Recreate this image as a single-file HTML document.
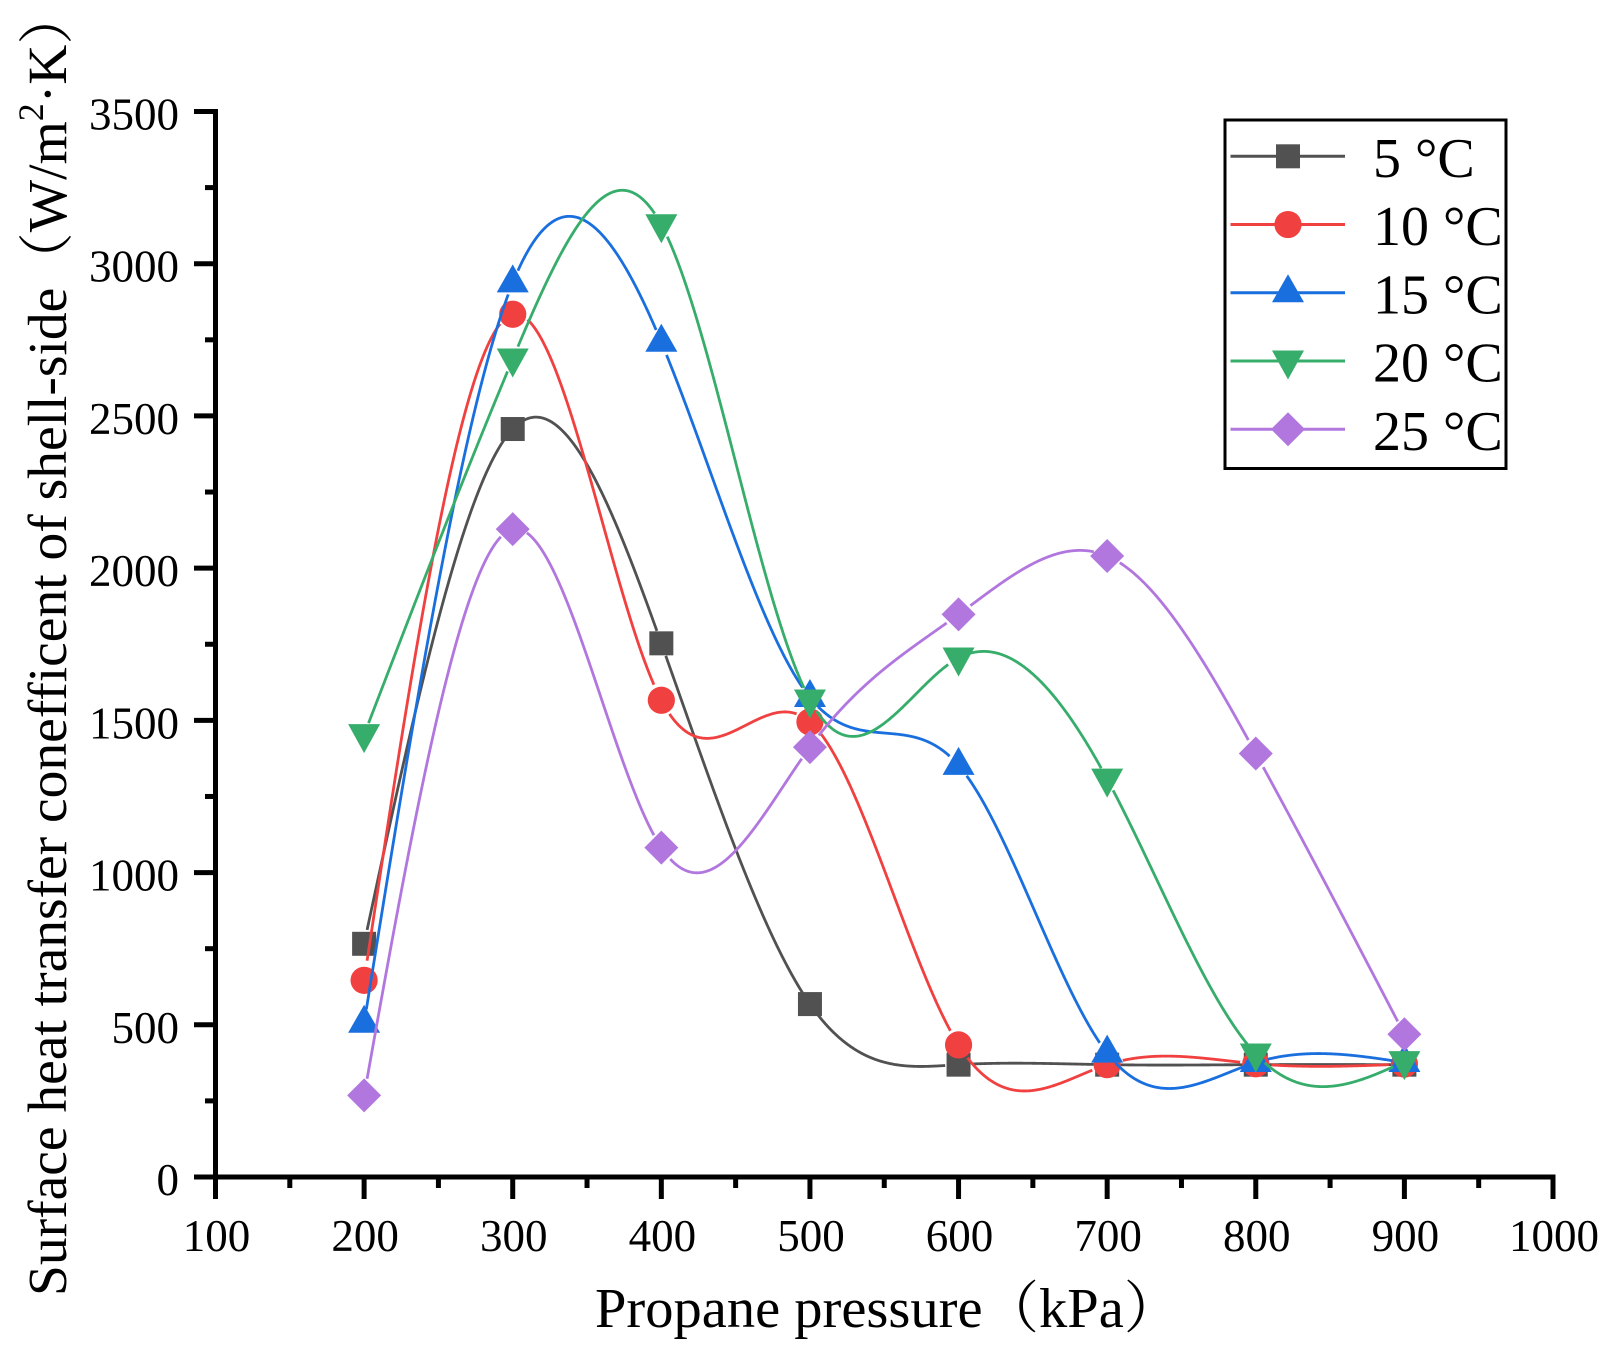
<!DOCTYPE html>
<html lang="en">
<head>
<meta charset="utf-8">
<title>Surface heat transfer coefficient vs propane pressure</title>
<style>
html,body{margin:0;padding:0;background:#fff;width:1614px;height:1352px;overflow:hidden}
svg{display:block}
text{font-family:"Liberation Serif","Noto Serif CJK SC",serif;fill:#000}
</style>
</head>
<body>
<svg id="chart" xmlns="http://www.w3.org/2000/svg" width="1614" height="1352" viewBox="0 0 1614 1352">
<rect width="1614" height="1352" fill="#fff"/>
<g id="axes"></g>
<g id="series"></g>
<text x="595" y="1327" font-size="56.5">Propane pressure（kPa）</text>
<text transform="translate(66,1296) rotate(-90)" font-size="55.5">Surface heat transfer conefficent of shell-side（W/m<tspan font-size="36" dy="-23">2</tspan><tspan dy="23">·K）</tspan></text>
<g id="legend">
<rect x="1225" y="120" width="281" height="348.5" fill="#fff" stroke="#000" stroke-width="3"/>
</g>
</svg>
<script>
const pressures = [200, 300, 400, 500, 600, 700, 800, 900];
const values5 = [766, 2457, 1753, 568, 369, 369, 369, 369];
const values10 = [646, 2834, 1566, 1495, 434, 369, 372, 371];
const values15 = [505, 2937, 2742, 1575, 1352, 407, 376, 376];
const values20 = [1453, 2687, 3128, 1567, 1705, 1307, 404, 379];
const values25 = [268, 2128, 1082, 1412, 1848, 2040, 1391, 469];
const seriesLabels = ['5 °C', '10 °C', '15 °C', '20 °C', '25 °C'];
const xTickLabels = [100, 200, 300, 400, 500, 600, 700, 800, 900, 1000];
const yTickLabels = [0, 500, 1000, 1500, 2000, 2500, 3000, 3500];
const xMinorTicks = [150, 250, 350, 450, 550, 650, 750, 850, 950];
const yMinorTicks = [250, 750, 1250, 1750, 2250, 2750, 3250];

const NS = 'http://www.w3.org/2000/svg';
const seriesColors = ['#515151', '#F14040', '#1A6FDF', '#37AD6B', '#B177DE'];
const seriesKeys = ['5c', '10c', '15c', '20c', '25c'];
const seriesShapes = ['square', 'circle', 'triangle', 'inverted', 'diamond'];
const seriesGaps = [13, 15.5, 12, 12, 14];
const seriesValues = [values5, values10, values15, values20, values25];

function xScale(v) { return 215.5 + (v - 100) * (1553 - 215.5) / 900; }
function yScale(v) { return 1177 - v * (1177 - 111.5) / 3500; }

function make(tag, attrs, parent) {
  const el = document.createElementNS(NS, tag);
  for (const k in attrs) el.setAttribute(k, attrs[k]);
  parent.appendChild(el);
  return el;
}

/* natural cubic spline through the data */
function spline(xs, ys) {
  const n = xs.length, a = new Array(n).fill(0), b = new Array(n).fill(0), c = new Array(n).fill(0), r = new Array(n).fill(0), m = new Array(n).fill(0);
  b[0] = 1; b[n - 1] = 1;
  for (let i = 1; i < n - 1; i++) {
    const h0 = xs[i] - xs[i - 1], h1 = xs[i + 1] - xs[i];
    a[i] = h0; b[i] = 2 * (h0 + h1); c[i] = h1;
    r[i] = 6 * ((ys[i + 1] - ys[i]) / h1 - (ys[i] - ys[i - 1]) / h0);
  }
  for (let i = 1; i < n; i++) {
    const w = a[i] / b[i - 1];
    b[i] -= w * c[i - 1];
    r[i] -= w * r[i - 1];
  }
  m[n - 1] = r[n - 1] / b[n - 1];
  for (let i = n - 2; i >= 0; i--) m[i] = (r[i] - c[i] * m[i + 1]) / b[i];
  return function (x) {
    let i = Math.min(n - 2, Math.max(0, xs.findIndex(function (q) { return q > x; }) - 1));
    if (x >= xs[n - 1]) i = n - 2;
    const h = xs[i + 1] - xs[i], A = (xs[i + 1] - x) / h, B = (x - xs[i]) / h;
    return A * ys[i] + B * ys[i + 1] + ((A * A * A - A) * m[i] + (B * B * B - B) * m[i + 1]) * h * h / 6;
  };
}

function markerShape(shape, cx, cy, color, parent) {
  if (shape === 'square') return make('rect', { x: cx - 12, y: cy - 12, width: 24, height: 24, fill: color }, parent);
  if (shape === 'circle') return make('circle', { cx: cx, cy: cy, r: 13.6, fill: color }, parent);
  if (shape === 'triangle') return make('polygon', { points: [cx, cy - 18.5, cx + 16, cy + 9.5, cx - 16, cy + 9.5].join(','), fill: color }, parent);
  if (shape === 'inverted') return make('polygon', { points: [cx, cy + 18.5, cx + 16, cy - 10.5, cx - 16, cy - 10.5].join(','), fill: color }, parent);
  return make('polygon', { points: [cx, cy - 17, cx + 17, cy, cx, cy + 17, cx - 17, cy].join(','), fill: color }, parent);
}

const axes = document.getElementById('axes');
const seriesGroup = document.getElementById('series');
const legend = document.getElementById('legend');

const yAxisLine = make('line', { x1: 215.5, x2: 215.5, y1: 109, y2: 1199, stroke: '#000', 'stroke-width': 5 }, axes);


const xAxisLine = make('line', { x1: 194, x2: 1555.5, y1: 1177, y2: 1177, stroke: '#000', 'stroke-width': 5 }, axes);



xTickLabels.forEach(function (v) {
  const tick = make('line', { x1: xScale(v), x2: xScale(v), y1: 1177, y2: 1199, stroke: '#000', 'stroke-width': 5 }, axes);
  
  
  const label = make('text', { x: xScale(v) + 1, y: 1251, 'font-size': 45, 'text-anchor': 'middle' }, axes);
  label.textContent = String(v);
  
  
});
xMinorTicks.forEach(function (v) {
  const tick = make('line', { x1: xScale(v), x2: xScale(v), y1: 1177, y2: 1188, stroke: '#000', 'stroke-width': 5 }, axes);
  
  
});
yTickLabels.forEach(function (v) {
  const tick = make('line', { x1: 194, x2: 215.5, y1: yScale(v), y2: yScale(v), stroke: '#000', 'stroke-width': 5 }, axes);
  
  
  const label = make('text', { x: 179, y: yScale(v) + 18, 'font-size': 45, 'text-anchor': 'end' }, axes);
  label.textContent = String(v);
  
  
});
yMinorTicks.forEach(function (v) {
  const tick = make('line', { x1: 205, x2: 215.5, y1: yScale(v), y2: yScale(v), stroke: '#000', 'stroke-width': 5 }, axes);
  
  
});

seriesValues.forEach(function (vals, s) {
  const g = make('g', {}, seriesGroup);
  
  
  const f = spline(pressures, vals);
  const first = pressures[0], last = pressures[pressures.length - 1];
  const gapRadius = seriesGaps[s];
  let d = '', pen = false;
  for (let x = first; x <= last + 0.001; x += 0.5) {
    const px = xScale(x), py = yScale(f(x));
    const near = pressures.some(function (p, i) {
      return Math.hypot(px - xScale(p), py - yScale(vals[i])) < gapRadius;
    });
    if (near) { pen = false; continue; }
    d += (pen ? 'L' : 'M') + px.toFixed(2) + ' ' + py.toFixed(2);
    pen = true;
  }
  const line = make('path', { d: d, fill: 'none', stroke: seriesColors[s], 'stroke-width': 2.8, 'stroke-linejoin': 'round' }, g);
  
  
  pressures.forEach(function (p, i) {
    const m = markerShape(seriesShapes[s], xScale(p), yScale(vals[i]), seriesColors[s], g);
    
    
  });

  const ly = 156.3 + s * 68.25;
  const keyLine = make('line', { x1: 1230.5, x2: 1345, y1: ly, y2: ly, stroke: seriesColors[s], 'stroke-width': 3 }, legend);
  
  
  const keyMarker = markerShape(seriesShapes[s], 1288, ly, seriesColors[s], legend);
  
  
  const keyLabel = make('text', { x: 1373, y: ly + 20.5, 'font-size': 56 }, legend);
  keyLabel.textContent = seriesLabels[s];
  
  
});
</script>
</body>
</html>
